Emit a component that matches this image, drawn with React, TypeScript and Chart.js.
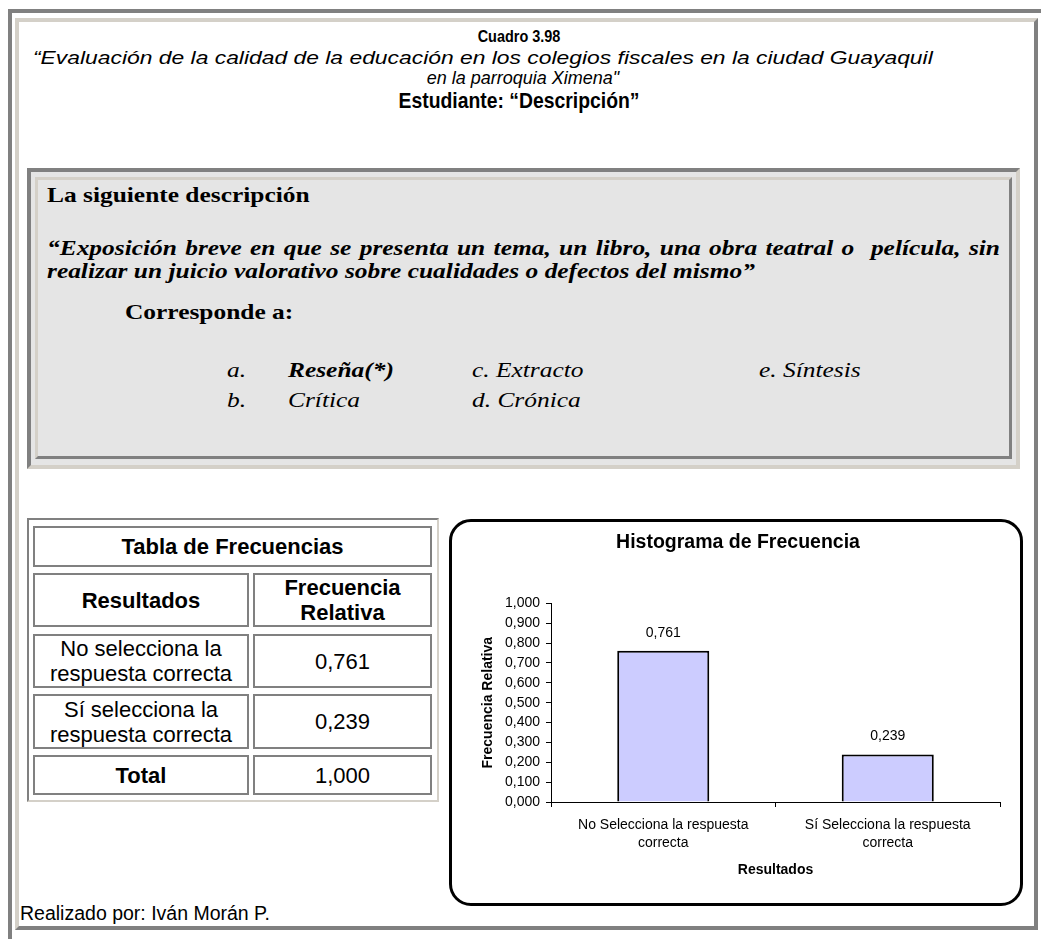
import React, { useEffect, useRef } from "react";
import { Chart, registerables } from "chart.js";

Chart.register(...registerables);

// ---------- data ----------
const chartTitle = "Histograma de Frecuencia";
const categories: string[][] = [
  ["No Selecciona la respuesta", "correcta"],
  ["Sí Selecciona la respuesta", "correcta"],
];
const relFreq: number[] = [0.761, 0.239];
const yAxisTitle = "Frecuencia Relativa";
const xAxisTitle = "Resultados";

const tableResultLabels: string[][] = [
  ["No selecciona la", "respuesta correcta"],
  ["Sí selecciona la", "respuesta correcta"],
];
const tableValues: string[] = ["0,761", "0,239"];
const tableTotal = "1,000";

const fmt = (v: number) => v.toFixed(3).replace(".", ",");

const SANS = "'Liberation Sans', Arial, Helvetica, sans-serif";
const SERIF = "'Liberation Serif', 'Times New Roman', serif";
const GREY = "#808080";
const BEIGE = "#d4d0c8";
const BOX_FS = 22;
const STRETCH = 1.155;

type TxtProps = {
  x: number;
  cy: number;
  size: number;
  lh?: number;
  align?: "left" | "center";
  bold?: boolean;
  italic?: boolean;
  family?: string;
  sx?: number;
  children: React.ReactNode;
};

function Txt({ x, cy, size, lh, align = "left", bold, italic, family = SANS, sx, children }: TxtProps) {
  const lineH = lh ?? Math.round(size * 1.2);
  const style: React.CSSProperties = {
    position: "absolute",
    top: cy - lineH / 2,
    lineHeight: lineH + "px",
    fontSize: size,
    fontFamily: family,
    fontWeight: bold ? "bold" : "normal",
    fontStyle: italic ? "italic" : "normal",
    whiteSpace: "nowrap",
    color: "#000",
  };
  if (align === "center") {
    style.left = x - 450;
    style.width = 900;
    style.textAlign = "center";
    if (sx) {
      style.transform = `scaleX(${sx})`;
      style.transformOrigin = "center center";
    }
  } else {
    style.left = x;
    if (sx) {
      style.transform = `scaleX(${sx})`;
      style.transformOrigin = "left center";
    }
  }
  return <div style={style}>{children}</div>;
}

function Frame({ l, t, w, h, tl, br, bw = 4, bg }: { l: number; t: number; w: number; h: number; tl: string; br?: string; bw?: number; bg?: string }) {
  return (
    <div
      style={{
        position: "absolute",
        left: l,
        top: t,
        width: w,
        height: h,
        boxSizing: "border-box",
        borderTop: `${bw}px solid ${tl}`,
        borderLeft: `${bw}px solid ${tl}`,
        borderRight: br ? `${bw}px solid ${br}` : "none",
        borderBottom: br ? `${bw}px solid ${br}` : "none",
        background: bg ?? "transparent",
      }}
    />
  );
}

function Cell({ l, t, w, h, bold, lines }: { l: number; t: number; w: number; h: number; bold?: boolean; lines: string[] }) {
  return (
    <div
      style={{
        position: "absolute",
        left: l,
        top: t,
        width: w,
        height: h,
        boxSizing: "border-box",
        border: `2px solid ${GREY}`,
        display: "flex",
        flexDirection: "column",
        alignItems: "center",
        justifyContent: "center",
        fontFamily: SANS,
        fontSize: 22,
        lineHeight: "25px",
        fontWeight: bold ? "bold" : "normal",
        textAlign: "center",
        color: "#000",
      }}
    >
      {lines.map((s, i) => (
        <div key={i}>{s}</div>
      ))}
    </div>
  );
}

const barLabelPlugin = {
  id: "barLabels",
  afterDatasetsDraw(chart: any) {
    const ctx = chart.ctx;
    const meta = chart.getDatasetMeta(0);
    ctx.save();
    ctx.font = `14px ${SANS}`;
    ctx.fillStyle = "#000";
    ctx.textAlign = "center";
    ctx.textBaseline = "middle";
    meta.data.forEach((bar: any, i: number) => {
      ctx.fillText(fmt(relFreq[i]), bar.x, bar.y - 18);
    });
    ctx.restore();
  },
};

function Histogram() {
  const ref = useRef<HTMLCanvasElement | null>(null);
  useEffect(() => {
    if (!ref.current) return;
    const chart = new Chart(ref.current, {
      type: "bar",
      data: {
        labels: categories,
        datasets: [
          {
            data: relFreq,
            backgroundColor: "#ccccff",
            borderColor: "#000",
            borderWidth: 2,
            barPercentage: 0.41,
            categoryPercentage: 1,
          },
        ],
      },
      options: {
        responsive: false,
        animation: false,
        devicePixelRatio: 1,
        layout: { padding: { left: 24, right: 20, top: 0, bottom: 20 } },
        plugins: {
          legend: { display: false },
          tooltip: { enabled: false },
          title: {
            display: true,
            text: chartTitle,
            color: "#000",
            font: { family: SANS, size: 19.5, weight: "bold", lineHeight: 1.2 },
            padding: { top: 9, bottom: 49 },
          },
        },
        scales: {
          x: {
            grid: { display: true, drawOnChartArea: false, color: "#000", tickLength: 5, offset: true },
            border: { display: true, color: "#000", width: 1 },
            ticks: {
              color: "#000",
              font: { family: SANS, size: 14, lineHeight: 1.3 },
              padding: 9,
              maxRotation: 0,
              autoSkip: false,
            },
            title: {
              display: true,
              text: xAxisTitle,
              color: "#000",
              font: { family: SANS, size: 14, weight: "bold", lineHeight: 1.2 },
              padding: { top: 10, bottom: 4 },
            },
            afterFit: (s: any) => {
              s.height = 81;
            },
          },
          y: {
            min: 0,
            max: 1,
            ticks: {
              stepSize: 0.1,
              color: "#000",
              font: { family: SANS, size: 14 },
              padding: 6,
              callback: (v: any) => fmt(Number(v)),
            },
            grid: { display: true, drawOnChartArea: false, color: "#000", tickLength: 5 },
            border: { display: true, color: "#000", width: 1 },
            title: {
              display: true,
              text: yAxisTitle,
              color: "#000",
              font: { family: SANS, size: 14, weight: "bold", lineHeight: 1.2 },
              padding: 4,
            },
            afterFit: (s: any) => {
              s.width = 75;
            },
          },
        },
      },
      plugins: [barLabelPlugin],
    } as any);
    return () => chart.destroy();
  }, []);
  return <canvas ref={ref} width={568} height={381} style={{ position: "absolute", left: 0, top: 0, width: 568, height: 381 }} />;
}

export default function App() {
  return (
    <div style={{ position: "absolute", left: 0, top: 0, width: 1041, height: 939, overflow: "hidden", background: "#fff" }}>
      {/* outer frames */}
      <Frame l={8} t={9} w={1100} h={1000} tl={GREY} />
      <Frame l={15} t={18} w={1023} h={912} tl={BEIGE} br={GREY} />

      {/* header */}
      <Txt x={519} cy={37} size={17} bold align="center" sx={0.85}>Cuadro 3.98</Txt>
      <Txt x={33} cy={58} size={18} italic sx={1.27}>
        “Evaluación de la calidad de la educación en los colegios fiscales en la ciudad Guayaquil
      </Txt>
      <Txt x={523} cy={78} size={18} italic align="center">en la parroquia Ximena"</Txt>
      <Txt x={519} cy={101} size={22} bold align="center" sx={0.88}>Estudiante: “Descripción”</Txt>

      {/* grey question box */}
      <Frame l={27} t={168} w={993} h={301} tl={GREY} br={BEIGE} bg="#e5e5e5" />
      <Frame l={35} t={177} w={977} h={282} tl={BEIGE} br={GREY} bw={3} bg="#e5e5e5" />
      <Txt x={47} cy={195} size={BOX_FS} bold family={SERIF} sx={STRETCH}>La siguiente descripción</Txt>
      <div
        style={{
          position: "absolute",
          left: 47,
          top: 236,
          width: 953 / STRETCH,
          fontFamily: SERIF,
          fontSize: BOX_FS,
          lineHeight: "23px",
          fontWeight: "bold",
          fontStyle: "italic",
          color: "#000",
          transform: `scaleX(${STRETCH})`,
          transformOrigin: "left top",
        }}
      >
        <div style={{ textAlign: "justify", textAlignLast: "justify", whiteSpace: "nowrap" as any }}>
          “Exposición breve en que se presenta un tema, un libro, una obra teatral o&nbsp; película, sin
        </div>
        <div style={{ whiteSpace: "nowrap" }}>realizar un juicio valorativo sobre cualidades o defectos del mismo”</div>
      </div>
      <Txt x={125} cy={312} size={BOX_FS} bold family={SERIF} sx={STRETCH}>Corresponde a:</Txt>
      <Txt x={227} cy={370} size={BOX_FS} italic family={SERIF} sx={STRETCH}>a.</Txt>
      <Txt x={288} cy={370} size={BOX_FS} bold italic family={SERIF} sx={STRETCH}>Reseña(*)</Txt>
      <Txt x={472} cy={370} size={BOX_FS} italic family={SERIF} sx={STRETCH}>c. Extracto</Txt>
      <Txt x={759} cy={370} size={BOX_FS} italic family={SERIF} sx={STRETCH}>e. Síntesis</Txt>
      <Txt x={227} cy={400} size={BOX_FS} italic family={SERIF} sx={STRETCH}>b.</Txt>
      <Txt x={288} cy={400} size={BOX_FS} italic family={SERIF} sx={STRETCH}>Crítica</Txt>
      <Txt x={472} cy={400} size={BOX_FS} italic family={SERIF} sx={STRETCH}>d. Crónica</Txt>

      {/* frequency table */}
      <Frame l={27} t={518} w={412} h={284} tl={GREY} br={BEIGE} bw={2} />
      <Cell l={33} t={526} w={399} h={41} bold lines={["Tabla de Frecuencias"]} />
      <Cell l={33} t={573} w={216} h={54} bold lines={["Resultados"]} />
      <Cell l={253} t={573} w={179} h={54} bold lines={["Frecuencia", "Relativa"]} />
      <Cell l={33} t={634} w={216} h={54} lines={tableResultLabels[0]} />
      <Cell l={253} t={634} w={179} h={54} lines={[tableValues[0]]} />
      <Cell l={33} t={694} w={216} h={55} lines={tableResultLabels[1]} />
      <Cell l={253} t={694} w={179} h={55} lines={[tableValues[1]]} />
      <Cell l={33} t={755} w={216} h={40} bold lines={["Total"]} />
      <Cell l={253} t={755} w={179} h={40} lines={[tableTotal]} />

      {/* chart box */}
      <div
        style={{
          position: "absolute",
          left: 449,
          top: 519,
          width: 574,
          height: 387,
          boxSizing: "border-box",
          border: "3px solid #000",
          borderRadius: 22,
          background: "#fff",
        }}
      >
        <Histogram />
      </div>

      {/* footer */}
      <Txt x={20} cy={913} size={19.5}>Realizado por: Iván Morán P.</Txt>
    </div>
  );
}
